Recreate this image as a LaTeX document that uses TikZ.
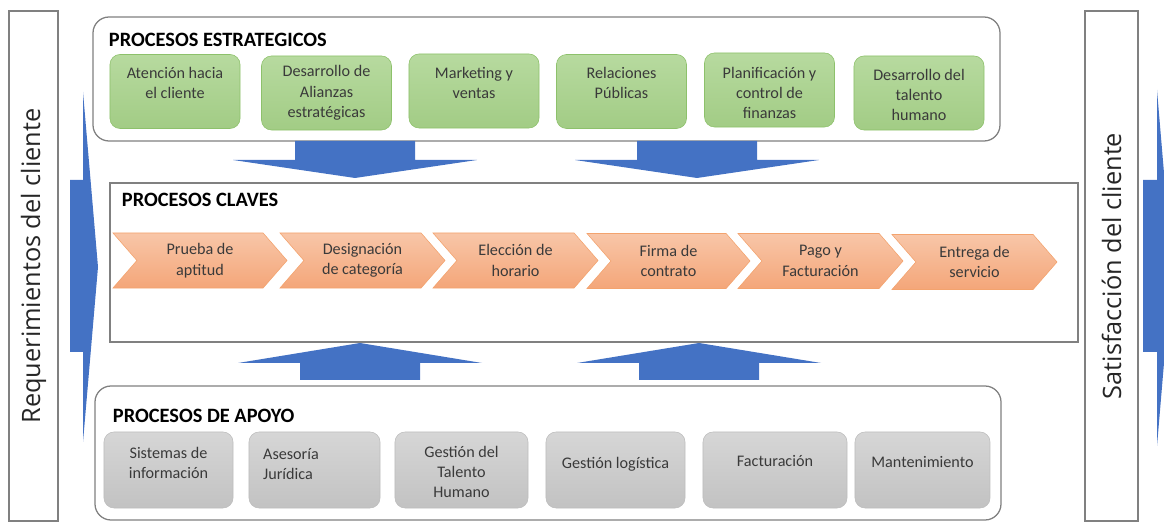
\documentclass[tikz,border=0pt]{standalone}
\usepackage{fontspec}
\setmainfont{Carlito}
\newfontfamily\sidefont{Open Sans}
\usetikzlibrary{shapes.symbols}
\definecolor{azul}{HTML}{4472C4}
\definecolor{borde}{HTML}{808080}
\definecolor{texto}{HTML}{3A3A3A}
\definecolor{verdeA}{HTML}{B7DA9F}
\definecolor{verdeC}{HTML}{A2CC85}
\definecolor{verdeB}{HTML}{8DC16B}
\definecolor{salmonA}{HTML}{F8C6A8}
\definecolor{salmonC}{HTML}{F4A679}
\definecolor{salmonB}{HTML}{F3A36E}
\definecolor{grisA}{HTML}{D6D6D6}
\definecolor{grisC}{HTML}{C2C2C2}
\definecolor{grisB}{HTML}{BDBDBD}
\begin{document}
\begin{tikzpicture}[x=0.025cm, y=-0.025cm,
  every node/.style={font=\fontsize{11.5}{14.5}\selectfont, text=texto},
  titulo/.style={anchor=west, font=\fontsize{14.5}{17}\selectfont\bfseries, text=black},
  contenedor/.style={draw=borde, line width=0.9pt},
  estrat/.style={draw=verdeB, top color=verdeA, bottom color=verdeC, rounded corners=0.25cm,
    minimum width=3.25cm, minimum height=1.85cm},
  apoyo/.style={draw=grisB, top color=grisA, bottom color=grisC, rounded corners=0.25cm,
    minimum height=1.9cm},
  clave/.style={shape=signal, signal from=west, signal to=east, signal pointer angle=98,
    draw=salmonB, top color=salmonA, bottom color=salmonC, minimum height=1.375cm,
    inner sep=0pt, align=center},
  flecha/.style={fill=azul},
  lateral/.style={draw=borde, line width=0.9pt, rotate=90, minimum width=12.75cm,
    font=\sidefont\fontsize{18}{20}\selectfont, text=black!85}]
\useasboundingbox (0,0) rectangle (1164,523);
\clip (0,0) rectangle (1164,523);

% barras laterales
\node[lateral, minimum height=1.225cm] (req) at (33.5,266) {Requerimientos del cliente};
\node[lateral, minimum height=1.325cm] (sat) at (1111.5,266) {Satisfacción del cliente};
\fill[flecha] (70,180) -- (83,180) -- (83,92) -- (98,267) -- (83,442) -- (83,352) -- (70,352) -- cycle;
\fill[flecha] (1143,180) -- (1157,180) -- (1157,90) -- (1172,268) -- (1157,446) -- (1157,352) -- (1143,352) -- cycle;

% procesos estrategicos
\draw[contenedor, rounded corners=0.4cm] (93,17) rectangle (1000,141);
\node[titulo] (tE) at (104,40) {PROCESOS ESTRATEGICOS};
\foreach \n/\cx/\cy/\ty/\t in {1/175/91.5/83/{Atención hacia\\el cliente},
    2/326.5/93/93/{Desarrollo de\\Alianzas\\estratégicas},
    3/474/91/83/{Marketing y\\ventas},
    4/621.5/91.5/83/{Relaciones\\Públicas},
    5/769.5/90/93/{Planificación y\\control de\\finanzas},
    6/919/93/95/{Desarrollo del\\talento\\humano}}
{
  \node[estrat] (e\n) at (\cx,\cy) {};
  \node[align=center] (te\n) at (\cx,\ty) {\t};
}

% flechas hacia abajo
\foreach \cx in {355,697}
\fill[flecha] ({\cx-60},141) -- ({\cx+60},141) -- ({\cx+60},160) -- ({\cx+122},160)
  -- (\cx,178) -- ({\cx-122},160) -- ({\cx-60},160) -- cycle;

% procesos claves
\draw[contenedor] (110,183) rectangle (1078,342);
\node[titulo] (tC) at (117,200) {PROCESOS CLAVES};
\foreach \n/\cx/\cy/\w/\t in {1/200/260.5/4.35cm/{Prueba de\\aptitud},
    2/362.5/260.5/4.125cm/{Designación\\de categoría},
    3/515.5/260.5/4.125cm/{Elección de\\horario},
    4/668.5/261/4.075cm/{Firma de\\contrato},
    5/820.5/261/4.125cm/{Pago y\\Facturación},
    6/974.5/262/4.125cm/{Entrega de\\servicio}}
\node[clave, minimum width=\w] (c\n) at (\cx,\cy) {\t};

% flechas hacia arriba
\foreach \cx in {360,699}
\fill[flecha] ({\cx-60},380) -- ({\cx+60},380) -- ({\cx+60},363) -- ({\cx+122},363)
  -- (\cx,343) -- ({\cx-122},363) -- ({\cx-60},363) -- cycle;

% procesos de apoyo
\draw[contenedor, rounded corners=0.4cm] (95,386) rectangle (1001,520);
\node[titulo] (tA) at (108,416) {PROCESOS DE APOYO};
\foreach \n/\cx/\w/\tx/\ty/\al/\t in {1/168.5/3.225cm/168.5/463/center/{Sistemas de\\información},
    2/314.5/3.275cm/291/464/left/{Asesoría\\Jurídica},
    3/461.5/3.325cm/461.5/472/center/{Gestión del\\Talento\\Humano},
    4/615.5/3.475cm/615.5/464/center/{Gestión logística},
    5/775/3.6cm/775/461/center/{Facturación},
    6/922.5/3.375cm/922.5/462/center/{Mantenimiento}}
{
  \node[apoyo, minimum width=\w] (a\n) at (\cx,470) {};
  \node[align=\al] (ta\n) at (\tx,\ty) {\t};
}
\end{tikzpicture}
\end{document}
